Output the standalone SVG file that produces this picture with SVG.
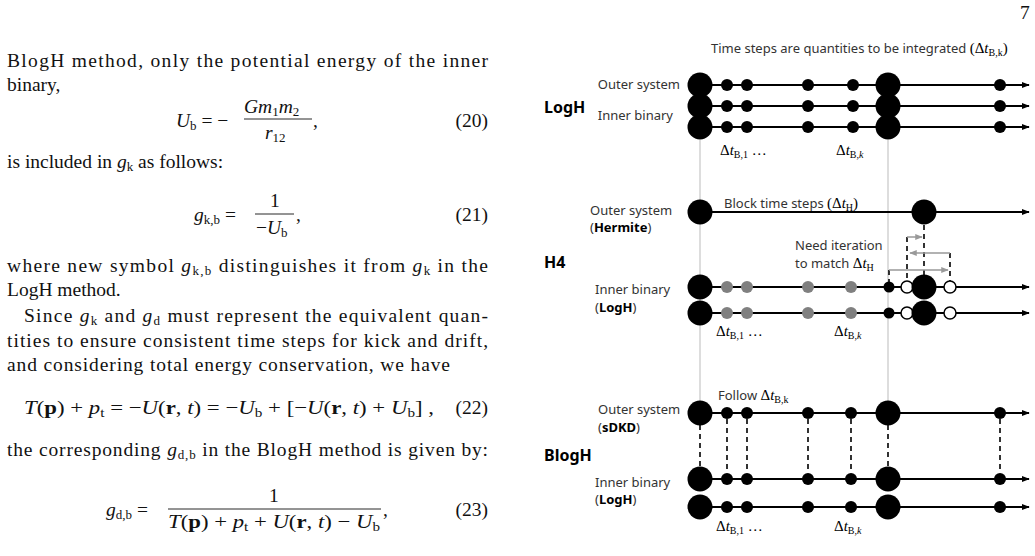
<svg xmlns="http://www.w3.org/2000/svg" width="1035" height="556" viewBox="0 0 1035 556">
<style>
.t{font-family:"Liberation Serif",serif;font-size:19.5px;fill:#111}
.i{font-style:italic}
.s{font-size:13px}
.l{font-family:"Noto Sans","Open Sans",sans-serif;font-size:13px;fill:#333}
.h{font-family:"Noto Sans","Open Sans",sans-serif;font-size:16px;font-weight:bold;fill:#000}
.m{font-family:"Liberation Serif",serif;font-size:15px;fill:#000}
.ln{stroke:#000;stroke-width:2;fill:none}
.d{stroke:#000;stroke-width:1.6;stroke-dasharray:5,4;fill:none}
.g{stroke:#bbb;stroke-width:1;fill:none}
.ga{stroke:#999;stroke-width:1.5;fill:none}
.b{fill:#000}
.gr{fill:#808080}
.o{fill:#fff;stroke:#000;stroke-width:1.5}
</style>
<defs>
<marker id="a" viewBox="0 0 10 10" refX="9" refY="5" markerWidth="4" markerHeight="4" orient="auto"><path d="M0,1 L10,5 L0,9 z" fill="#000"/></marker>
<marker id="ag" viewBox="0 0 10 10" refX="9" refY="5" markerWidth="5" markerHeight="5" orient="auto"><path d="M0,1 L10,5 L0,9 z" fill="#999"/></marker>
</defs>
<g id="page-text">
<text class="t" x="1020" y="19">7</text>
<text class="t" x="7" y="67" textLength="481" lengthAdjust="spacing">BlogH method, only the potential energy of the inner</text>
<text class="t" x="7" y="91">binary,</text>
<text class="t" x="176" y="127"><tspan class="i">U</tspan><tspan class="s" dy="3">b</tspan><tspan dy="-3"> = −</tspan></text>
<line x1="244" y1="119" x2="312" y2="119" stroke="#111" stroke-width="0.9"/>
<text class="t i" x="244" y="113">Gm<tspan class="s" font-style="normal" dy="3">1</tspan><tspan dy="-3">m</tspan><tspan class="s" font-style="normal" dy="3">2</tspan></text>
<text class="t i" x="265" y="139">r<tspan class="s" font-style="normal" dy="3">12</tspan></text>
<text class="t" x="313" y="127">,</text>
<text class="t" x="488" y="127" text-anchor="end">(20)</text>
<text class="t" x="7" y="168">is included in <tspan class="i">g</tspan><tspan class="s" dy="3">k</tspan><tspan dy="-3"> as follows:</tspan></text>
<text class="t" x="194" y="221"><tspan class="i">g</tspan><tspan class="s" dy="3">k,b</tspan><tspan dy="-3"> =</tspan></text>
<line x1="255" y1="214" x2="294" y2="214" stroke="#111" stroke-width="0.9"/>
<text class="t" x="270" y="207">1</text>
<text class="t" x="256" y="234">−<tspan class="i">U</tspan><tspan class="s" dy="3">b</tspan></text>
<text class="t" x="296" y="221">,</text>
<text class="t" x="488" y="221" text-anchor="end">(21)</text>
<text class="t" x="7" y="272" textLength="481" lengthAdjust="spacing">where new symbol <tspan class="i">g</tspan><tspan class="s" dy="3">k,b</tspan><tspan dy="-3"> distinguishes it from </tspan><tspan class="i">g</tspan><tspan class="s" dy="3">k</tspan><tspan dy="-3"> in the</tspan></text>
<text class="t" x="7" y="296">LogH method.</text>
<text class="t" x="24" y="322" textLength="464" lengthAdjust="spacing">Since <tspan class="i">g</tspan><tspan class="s" dy="3">k</tspan><tspan dy="-3"> and </tspan><tspan class="i">g</tspan><tspan class="s" dy="3">d</tspan><tspan dy="-3"> must represent the equivalent quan-</tspan></text>
<text class="t" x="7" y="347" textLength="481" lengthAdjust="spacing">tities to ensure consistent time steps for kick and drift,</text>
<text class="t" x="7" y="371" textLength="443" lengthAdjust="spacing">and considering total energy conservation, we have</text>
<text class="t" x="24" y="414" textLength="410" lengthAdjust="spacingAndGlyphs"><tspan class="i">T</tspan>(<tspan font-weight="bold">p</tspan>) + <tspan class="i">p</tspan><tspan class="s" dy="3">t</tspan><tspan dy="-3"> = −</tspan><tspan class="i">U</tspan>(<tspan font-weight="bold">r</tspan>, <tspan class="i">t</tspan>) = −<tspan class="i">U</tspan><tspan class="s" dy="3">b</tspan><tspan dy="-3"> + [−</tspan><tspan class="i">U</tspan>(<tspan font-weight="bold">r</tspan>, <tspan class="i">t</tspan>) + <tspan class="i">U</tspan><tspan class="s" dy="3">b</tspan><tspan dy="-3">] ,</tspan></text>
<text class="t" x="488" y="414" text-anchor="end">(22)</text>
<text class="t" x="7" y="456" textLength="481" lengthAdjust="spacing">the corresponding <tspan class="i">g</tspan><tspan class="s" dy="3">d,b</tspan><tspan dy="-3"> in the BlogH method is given by:</tspan></text>
<text class="t" x="106" y="516"><tspan class="i">g</tspan><tspan class="s" dy="3">d,b</tspan><tspan dy="-3"> =</tspan></text>
<line x1="168" y1="509" x2="381" y2="509" stroke="#111" stroke-width="0.9"/>
<text class="t" x="269" y="502">1</text>
<text class="t" x="168" y="528" textLength="212" lengthAdjust="spacingAndGlyphs"><tspan class="i">T</tspan>(<tspan font-weight="bold">p</tspan>) + <tspan class="i">p</tspan><tspan class="s" dy="3">t</tspan><tspan dy="-3"> + </tspan><tspan class="i">U</tspan>(<tspan font-weight="bold">r</tspan>, <tspan class="i">t</tspan>) − <tspan class="i">U</tspan><tspan class="s" dy="3">b</tspan></text>
<text class="t" x="383" y="516">,</text>
<text class="t" x="488" y="516" text-anchor="end">(23)</text>
</g>
<g id="guides">
<line class="g" x1="700" y1="140" x2="700" y2="402"/>
<line class="g" x1="888" y1="140" x2="888" y2="402"/>
</g>
<g id="connectors">
<line class="ln" x1="700" y1="85" x2="1029" y2="85" marker-end="url(#a)"/>
<line class="ln" x1="700" y1="106" x2="1029" y2="106" marker-end="url(#a)"/>
<line class="ln" x1="700" y1="127" x2="1029" y2="127" marker-end="url(#a)"/>
<line class="ln" x1="700" y1="212" x2="1029" y2="212" marker-end="url(#a)"/>
<line class="ln" x1="700" y1="287" x2="1029" y2="287" marker-end="url(#a)"/>
<line class="ln" x1="700" y1="313" x2="1029" y2="313" marker-end="url(#a)"/>
<line class="d" x1="924" y1="225" x2="924" y2="287"/>
<line class="d" x1="907" y1="237" x2="907" y2="281"/>
<line class="d" x1="950" y1="253" x2="950" y2="281"/>
<line class="d" x1="889" y1="270" x2="889" y2="282"/>
<line class="ga" x1="907" y1="237" x2="922" y2="237" marker-end="url(#ag)"/>
<line class="ga" x1="950" y1="253" x2="910" y2="253" marker-end="url(#ag)"/>
<line class="ga" x1="889" y1="270" x2="948" y2="270" marker-end="url(#ag)"/>
<line class="ln" x1="700" y1="413" x2="1029" y2="413" marker-end="url(#a)"/>
<line class="ln" x1="700" y1="479" x2="1029" y2="479" marker-end="url(#a)"/>
<line class="ln" x1="700" y1="507" x2="1029" y2="507" marker-end="url(#a)"/>
<line class="d" x1="700" y1="425" x2="700" y2="467"/>
<line class="d" x1="727" y1="419" x2="727" y2="473"/>
<line class="d" x1="747" y1="419" x2="747" y2="473"/>
<line class="d" x1="808" y1="419" x2="808" y2="473"/>
<line class="d" x1="851" y1="419" x2="851" y2="473"/>
<line class="d" x1="888" y1="425" x2="888" y2="467"/>
<line class="d" x1="1000" y1="419" x2="1000" y2="473"/>
</g>
<g id="logh">
<text class="l" x="711" y="53" font-size="13.5">Time steps are quantities to be integrated <tspan class="m">(Δ<tspan font-style="italic">t</tspan><tspan font-size="10" dy="3">B,k</tspan><tspan dy="-3">)</tspan></tspan></text>
<text class="l" x="680" y="89" text-anchor="end">Outer system</text>
<text class="h" x="544" y="113">LogH</text>
<text class="l" x="673" y="120" text-anchor="end">Inner binary</text>
<g class="b">
<circle cx="700" cy="85" r="12.5"/><circle cx="727" cy="85" r="6"/><circle cx="747" cy="85" r="6"/><circle cx="808" cy="85" r="6"/><circle cx="853" cy="85" r="6"/><circle cx="888" cy="85" r="12.5"/><circle cx="1000" cy="85" r="6"/>
<circle cx="700" cy="106" r="12.5"/><circle cx="727" cy="106" r="6"/><circle cx="747" cy="106" r="6"/><circle cx="808" cy="106" r="6"/><circle cx="853" cy="106" r="6"/><circle cx="888" cy="106" r="12.5"/><circle cx="1000" cy="106" r="6"/>
<circle cx="700" cy="127" r="12.5"/><circle cx="727" cy="127" r="6"/><circle cx="747" cy="127" r="6"/><circle cx="808" cy="127" r="6"/><circle cx="853" cy="127" r="6"/><circle cx="888" cy="127" r="12.5"/><circle cx="1000" cy="127" r="6"/>
</g>
<text class="m" x="720" y="155">Δ<tspan font-style="italic">t</tspan><tspan font-size="10" dy="3">B,1</tspan><tspan dy="-3"> …</tspan></text>
<text class="m" x="836" y="155">Δ<tspan font-style="italic">t</tspan><tspan font-size="10" dy="3">B,<tspan font-style="italic">k</tspan></tspan></text>
</g>
<g id="h4">
<text class="l" x="724" y="208">Block time steps <tspan class="m">(Δ<tspan font-style="italic">t</tspan><tspan font-size="10" dy="3">H</tspan><tspan dy="-3">)</tspan></tspan></text>
<text class="l" x="590" y="215">Outer system</text>
<text class="l" x="590" y="232">(<tspan font-weight="bold" fill="#000">Hermite</tspan>)</text>
<text class="h" x="544" y="268">H4</text>
<text class="l" x="795" y="250">Need iteration</text>
<text class="l" x="795" y="268">to match <tspan class="m">Δ<tspan font-style="italic">t</tspan><tspan font-size="10" dy="3">H</tspan></tspan></text>
<text class="l" x="595" y="294">Inner binary</text>
<text class="l" x="595" y="312">(<tspan font-weight="bold" fill="#000">LogH</tspan>)</text>
<circle class="b" cx="700" cy="212" r="12.5"/><circle class="b" cx="924" cy="212" r="12.5"/>
<circle class="b" cx="700" cy="287" r="12.5"/><circle class="b" cx="700" cy="313" r="12.5"/>
<g class="gr">
<circle cx="727" cy="287" r="6"/><circle cx="747" cy="287" r="6"/><circle cx="808" cy="287" r="6"/><circle cx="851" cy="287" r="6"/>
<circle cx="727" cy="313" r="6"/><circle cx="747" cy="313" r="6"/><circle cx="808" cy="313" r="6"/><circle cx="851" cy="313" r="6"/>
</g>
<circle class="b" cx="889" cy="287" r="5.5"/><circle class="b" cx="889" cy="313" r="5.5"/>
<circle class="o" cx="907" cy="287" r="6"/><circle class="o" cx="907" cy="313" r="6"/>
<circle class="b" cx="924" cy="287" r="12.5"/><circle class="b" cx="924" cy="313" r="12.5"/>
<circle class="o" cx="950" cy="287" r="6"/><circle class="o" cx="950" cy="313" r="6"/>
<text class="m" x="716" y="336">Δ<tspan font-style="italic">t</tspan><tspan font-size="10" dy="3">B,1</tspan><tspan dy="-3"> …</tspan></text>
<text class="m" x="834" y="336">Δ<tspan font-style="italic">t</tspan><tspan font-size="10" dy="3">B,<tspan font-style="italic">k</tspan></tspan></text>
</g>
<g id="blogh">
<text class="l" x="718" y="400">Follow <tspan class="m">Δ<tspan font-style="italic">t</tspan><tspan font-size="10" dy="3">B,k</tspan></tspan></text>
<text class="l" x="598" y="414">Outer system</text>
<text class="l" x="598" y="432">(<tspan font-weight="bold" fill="#000">sDKD</tspan>)</text>
<text class="h" x="544" y="461">BlogH</text>
<text class="l" x="595" y="487">Inner binary</text>
<text class="l" x="595" y="504">(<tspan font-weight="bold" fill="#000">LogH</tspan>)</text>
<g class="b">
<circle cx="700" cy="413" r="12.5"/><circle cx="727" cy="413" r="6"/><circle cx="747" cy="413" r="6"/><circle cx="808" cy="413" r="6"/><circle cx="851" cy="413" r="6"/><circle cx="888" cy="413" r="12.5"/><circle cx="1000" cy="413" r="6"/>
<circle cx="700" cy="479" r="12.5"/><circle cx="727" cy="479" r="6"/><circle cx="747" cy="479" r="6"/><circle cx="808" cy="479" r="6"/><circle cx="851" cy="479" r="6"/><circle cx="888" cy="479" r="12.5"/><circle cx="1000" cy="479" r="6"/>
<circle cx="700" cy="507" r="12.5"/><circle cx="727" cy="507" r="6"/><circle cx="747" cy="507" r="6"/><circle cx="808" cy="507" r="6"/><circle cx="851" cy="507" r="6"/><circle cx="888" cy="507" r="12.5"/><circle cx="1000" cy="507" r="6"/>
</g>
<text class="m" x="716" y="531">Δ<tspan font-style="italic">t</tspan><tspan font-size="10" dy="3">B,1</tspan><tspan dy="-3"> …</tspan></text>
<text class="m" x="834" y="531">Δ<tspan font-style="italic">t</tspan><tspan font-size="10" dy="3">B,<tspan font-style="italic">k</tspan></tspan></text>
</g>
</svg>
